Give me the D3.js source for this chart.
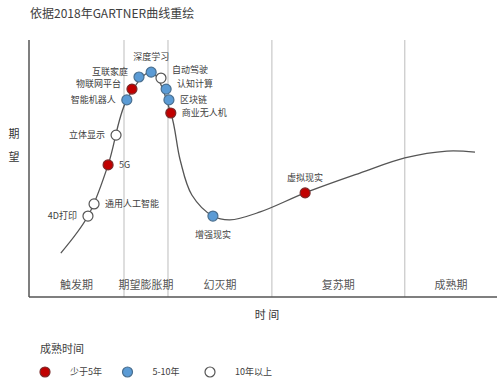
<!DOCTYPE html>
<html>
<head>
<meta charset="utf-8">
<script src="https://cdn.jsdelivr.net/npm/d3@7"></script>
<style>
  body { margin: 0; background: #fff; }
  text { font-family: "Noto Sans CJK SC", "Noto Sans", sans-serif; }
</style>
</head>
<body>
<svg id="chart" width="500" height="388"></svg>
<script>
// Hype curve anchors (time, expectation)
var curveX = [6.8, 12.6, 16.9, 20.9, 26.1, 30.3, 32.3, 34.8, 39.3, 42.9, 49.4, 59.0, 70.7, 80.3, 89.3, 95.3];
var curveY = [17.1, 31.5, 51.4, 76.7, 87.5, 71.6, 53.3, 39.7, 31.5, 30.0, 33.1, 40.5, 48.2, 54.1, 56.8, 56.4];

// Technologies on the curve
var techNames = ['4D打印', '通用人工智能', '5G', '立体显示', '智能机器人', '物联网平台', '互联家庭', '深度学习',
                 '自动驾驶', '认知计算', '区块链', '商业无人机', '增强现实', '虚拟现实'];
var techX = [12.6, 13.9, 16.9, 18.6, 20.9, 22.0, 23.5, 26.1, 28.2, 29.3, 29.9, 30.3, 39.3, 59.0];
var techY = [31.5, 36.2, 51.4, 63.0, 76.7, 80.9, 85.6, 87.5, 85.2, 80.9, 76.7, 71.6, 31.5, 40.5];
var techGroup = [2, 2, 0, 2, 1, 0, 1, 1, 2, 1, 1, 0, 1, 0];   // 0 少于5年, 1 5-10年, 2 10年以上
var techLabelPos = ['left', 'right', 'right', 'left', 'left', 'upleft', 'upleft', 'top',
                    'highright', 'upright', 'right', 'right', 'bottom', 'top'];

// Phases (boundaries in time units)
var phaseNames = ['触发期', '期望膨胀期', '幻灭期', '复苏期', '成熟期'];
var phaseBreaks = [20.3, 29.7, 51.9, 80.3];

// Legend
var legendNames = ['少于5年', '5-10年', '10年以上'];

var groupFill = ['#c00000', '#5b9bd5', '#ffffff'];
var groupStroke = ['#7a2a2a', '#4a6f8f', '#555555'];

var svg = d3.select('#chart');

var x = d3.scaleLinear().domain([0, 100]).range([29, 497]);
var y = d3.scaleLinear().domain([0, 100]).range([297, 40]);

// title
svg.append('text')
  .attr('x', 30).attr('y', 18)
  .attr('font-size', 12).attr('fill', '#404040')
  .text('依据2018年GARTNER曲线重绘');

// phase gridlines
svg.selectAll('.grid')
  .data(phaseBreaks)
  .enter().append('line')
  .attr('class', 'grid')
  .attr('x1', function (d) { return x(d); })
  .attr('x2', function (d) { return x(d); })
  .attr('y1', y(100)).attr('y2', y(0))
  .attr('stroke', '#bdbdbd').attr('stroke-width', 1);

// phase labels
var bounds = [0].concat(phaseBreaks).concat([100]);
svg.selectAll('.phase')
  .data(phaseNames)
  .enter().append('text')
  .attr('class', 'phase')
  .attr('x', function (d, i) { return x((bounds[i] + bounds[i + 1]) / 2); })
  .attr('y', 289)
  .attr('text-anchor', 'middle')
  .attr('font-size', 11).attr('fill', '#555')
  .text(function (d) { return d; });

// axes
svg.append('line')
  .attr('x1', x(0)).attr('x2', x(0)).attr('y1', y(100)).attr('y2', y(0))
  .attr('stroke', '#555').attr('stroke-width', 1.5);
svg.append('line')
  .attr('x1', x(0)).attr('x2', x(100)).attr('y1', y(0)).attr('y2', y(0))
  .attr('stroke', '#555').attr('stroke-width', 1.5);

// axis titles
svg.append('text').attr('x', 14).attr('y', 138).attr('text-anchor', 'middle')
  .attr('font-size', 11).attr('fill', '#333').text('期');
svg.append('text').attr('x', 14).attr('y', 161).attr('text-anchor', 'middle')
  .attr('font-size', 11).attr('fill', '#333').text('望');
svg.append('text').attr('x', 267).attr('y', 319).attr('text-anchor', 'middle')
  .attr('font-size', 11).attr('fill', '#333').text('时 间');

// the curve
var line = d3.line()
  .x(function (d) { return x(d[0]); })
  .y(function (d) { return y(d[1]); })
  .curve(d3.curveCatmullRom.alpha(0.5));

svg.append('path')
  .datum(d3.zip(curveX, curveY))
  .attr('d', line)
  .attr('fill', 'none')
  .attr('stroke', '#555').attr('stroke-width', 1.3);

// markers
var tech = techNames.map(function (n, i) {
  return {name: n, x: techX[i], y: techY[i], g: techGroup[i], pos: techLabelPos[i]};
});

svg.selectAll('.dot')
  .data(tech)
  .enter().append('circle')
  .attr('class', 'dot')
  .attr('cx', function (d) { return x(d.x); })
  .attr('cy', function (d) { return y(d.y); })
  .attr('r', 5)
  .attr('fill', function (d) { return groupFill[d.g]; })
  .attr('stroke', function (d) { return groupStroke[d.g]; })
  .attr('stroke-width', 1.2);

function isLeft(p) { return p === 'left' || p === 'upleft'; }
function isRight(p) { return p === 'right' || p === 'upright' || p === 'highright'; }

svg.selectAll('.lbl')
  .data(tech)
  .enter().append('text')
  .attr('class', 'lbl')
  .attr('x', function (d) {
    var cx = x(d.x);
    if (isLeft(d.pos)) return cx - 11;
    if (isRight(d.pos)) return cx + 11;
    return cx;
  })
  .attr('y', function (d) {
    var cy = y(d.y);
    if (d.pos === 'top') return cy - 12;
    if (d.pos === 'bottom') return cy + 22;
    if (d.pos === 'highright') return cy - 5;
    if (d.pos === 'upleft' || d.pos === 'upright') return cy - 2;
    return cy + 3;
  })
  .attr('text-anchor', function (d) {
    if (isLeft(d.pos)) return 'end';
    if (isRight(d.pos)) return 'start';
    return 'middle';
  })
  .attr('font-size', 9).attr('fill', '#404040')
  .text(function (d) { return d.name; });

// legend
svg.append('text').attr('x', 40).attr('y', 353)
  .attr('font-size', 11).attr('fill', '#404040').text('成熟时间');

var lg = svg.selectAll('.legend')
  .data(legendNames)
  .enter().append('g')
  .attr('class', 'legend')
  .attr('transform', function (d, i) { return 'translate(' + (45 + i * 82.5) + ',372)'; });

lg.append('circle')
  .attr('r', 5)
  .attr('fill', function (d, i) { return groupFill[i]; })
  .attr('stroke', function (d, i) { return groupStroke[i]; })
  .attr('stroke-width', 1.2);

lg.append('text')
  .attr('x', 25).attr('y', 3)
  .attr('font-size', 9).attr('fill', '#404040')
  .text(function (d) { return d; });
</script>
</body>
</html>
